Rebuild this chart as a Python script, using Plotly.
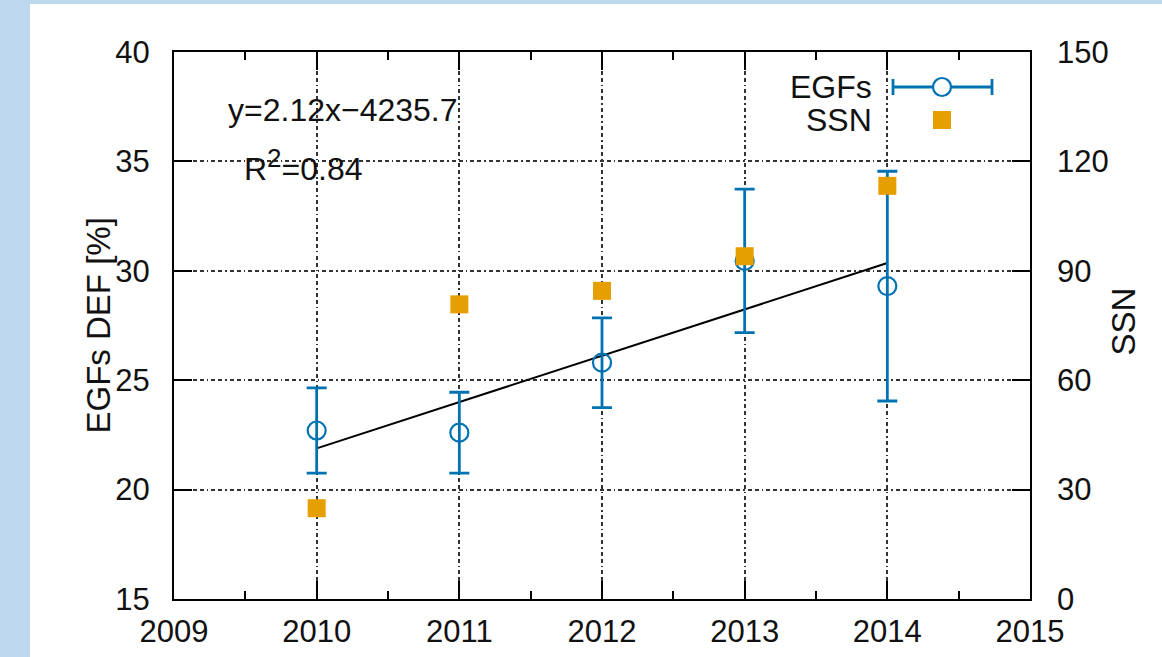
import plotly.graph_objects as go

# Yearly values
years = [2010, 2011, 2012, 2013, 2014]
egf_def = [22.7, 22.6, 25.8, 30.45, 29.3]        # EGFs DEF [%]
egf_err = [1.95, 1.85, 2.05, 3.28, 5.25]          # error bar half-widths
ssn = [24.9, 80.8, 84.5, 94.0, 113.3]             # yearly sunspot number

# Linear fit of EGFs DEF against year
fit_slope = 2.1182
fit_intercept = -4235.7
fit_r2 = 0.84

x_ticks = [2009, 2010, 2011, 2012, 2013, 2014, 2015]
y_ticks = [15, 20, 25, 30, 35, 40]
y2_ticks = [0, 30, 60, 90, 120, 150]

BLUE = "#0072b2"
ORANGE = "#e69f00"
FONT = "Liberation Sans, Arial, sans-serif"

W, H = 1162, 657
ML, MR, MT, MB = 174, 132, 52, 58
PW, PH = W - ML - MR, H - MT - MB


def px(xp):
    return (xp - ML) / PW


def py(yp):
    return (H - MB - yp) / PH


fig = go.Figure()

fit_x = [years[0], years[-1]]
fig.add_trace(go.Scatter(
    x=fit_x, y=[fit_slope * v + fit_intercept for v in fit_x],
    mode="lines", line=dict(color="black", width=2), showlegend=False,
))

fig.add_trace(go.Scatter(
    x=years, y=egf_def, mode="markers",
    marker=dict(symbol="circle-open", size=18, color=BLUE, line=dict(width=2.2, color=BLUE)),
    error_y=dict(type="data", array=egf_err, visible=True, color=BLUE, thickness=2.8, width=10),
    showlegend=False,
))

fig.add_trace(go.Scatter(
    x=years, y=ssn, yaxis="y2", mode="markers",
    marker=dict(symbol="square", size=18, color=ORANGE),
    showlegend=False,
))

grid = dict(showgrid=True, gridcolor="#333333", gridwidth=1.5,
            griddash="4px,3px,4px,3px,1.5px,3px")


def label(text, xp, yp, size=32, **kw):
    return dict(text=text, xref="paper", yref="paper", x=px(xp), y=py(yp),
                yanchor="middle", showarrow=False, font=dict(size=size), **kw)


fig.update_layout(
    width=W, height=H,
    margin=dict(l=ML, r=MR, t=MT, b=MB, pad=0),
    paper_bgcolor="#bdd7ee", plot_bgcolor="white",
    font=dict(family=FONT, size=31, color="#111111"),
    xaxis=dict(
        range=[2009, 2015], tickvals=x_ticks, ticktext=[str(v) for v in x_ticks],
        ticks="inside", ticklen=18, tickwidth=1.5, tickcolor="black",
        minor=dict(dtick=0.5, tick0=2009, ticks="inside", ticklen=8, tickwidth=1.5, tickcolor="black", showgrid=False),
        showline=True, linecolor="black", linewidth=2, mirror="ticks",
        ticklabelstandoff=4, zeroline=False, automargin=False, **grid,
    ),
    yaxis=dict(
        range=[15, 40], tickvals=y_ticks,
        ticks="inside", ticklen=18, tickwidth=1.5, tickcolor="black",
        showline=True, linecolor="black", linewidth=2, mirror="ticks",
        ticklabelstandoff=16, zeroline=False, automargin=False, **grid,
    ),
    yaxis2=dict(
        range=[0, 150], tickvals=y2_ticks, overlaying="y", side="right",
        ticks="inside", ticklen=18, tickwidth=1.5, tickcolor="black",
        showline=False, showgrid=False, zeroline=False, ticklabelstandoff=26,
        automargin=False,
    ),
    shapes=[
        # white panel behind the chart
        dict(type="rect", xref="paper", yref="paper", x0=px(30), x1=px(W + 5), y0=py(H + 5), y1=py(4),
             fillcolor="white", line=dict(width=0), layer="below"),
        # legend sample: horizontal error bar with open circle
        dict(type="line", xref="paper", yref="paper", x0=px(893), x1=px(992), y0=py(87), y1=py(87),
             line=dict(color=BLUE, width=2.8)),
        dict(type="line", xref="paper", yref="paper", x0=px(893), x1=px(893), y0=py(79), y1=py(95),
             line=dict(color=BLUE, width=2.8)),
        dict(type="line", xref="paper", yref="paper", x0=px(992), x1=px(992), y0=py(79), y1=py(95),
             line=dict(color=BLUE, width=2.8)),
        dict(type="circle", xref="paper", yref="paper", x0=px(933), x1=px(951), y0=py(96), y1=py(78),
             fillcolor="white", line=dict(color=BLUE, width=2.2)),
        # legend sample: square
        dict(type="rect", xref="paper", yref="paper", x0=px(933), x1=px(951), y0=py(129), y1=py(111),
             fillcolor=ORANGE, line=dict(width=0)),
    ],
    annotations=[
        label("EGFs DEF [%]", 77, 326, size=33, textangle=-90),
        label("SSN", 1143, 322, size=33, textangle=-90),
        label("EGFs", 874, 87, xanchor="right"),
        label("SSN", 874, 120, xanchor="right"),
        label(f"y={fit_slope:.2f}x\u2212{abs(fit_intercept):.1f}", 226, 110, xanchor="left"),
        label(f"R<sup><span style='font-size:26px'>2</span></sup>=0.{round(fit_r2 * 100):02d}",
              242, 165, xanchor="left"),
    ],
)

fig.write_html("out.html")
